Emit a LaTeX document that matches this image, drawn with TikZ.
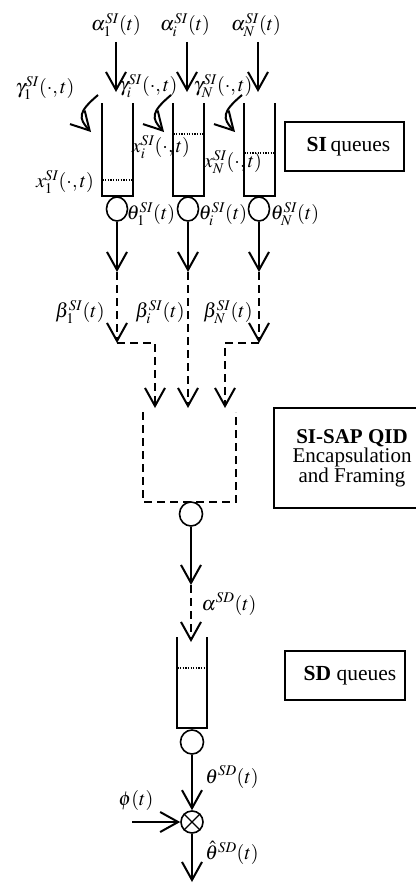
\documentclass[tikz,border=0pt]{standalone}
\usepackage{mathptmx}
\usepackage[no-math]{fontspec}
\setmainfont{Liberation Serif}
\usetikzlibrary{arrows.meta,shapes.geometric}

\tikzset{
  wire/.style={line width=2pt},
  flow/.style={wire,-{Straight Barb[length=18pt,width=20pt]}},
  dwire/.style={wire,dash pattern=on 8pt off 5pt},
  dflow/.style={flow,dash pattern=on 8pt off 5pt},
  queue/.style={line width=2pt},
  level/.style={line width=1.1pt,dash pattern=on 1.3pt off 1.3pt},
  server/.style={draw,ellipse,line width=1.6pt,minimum width=21pt,minimum height=24pt,inner sep=0pt},
  mixer/.style={draw,circle,line width=1.6pt,minimum size=22pt,inner sep=0pt},
  legend/.style={draw,line width=1.7pt,align=center,inner sep=0pt},
  lbl/.style={inner sep=0pt,font=\fontsize{20}{24}\selectfont},
}

\begin{document}
\begin{tikzpicture}[x=1pt,y=-1pt]
\useasboundingbox (0,0) rectangle (415,883);

% ---------- SI queues: arrivals ----------
\node[lbl] (a1) at (116,25) {$\alpha_1^{SI}(t)$};
\node[lbl] (ai) at (185,25) {$\alpha_i^{SI}(t)$};
\node[lbl] (aN) at (256,25) {$\alpha_N^{SI}(t)$};
\foreach \c/\n in {116/1,187/i,258/N}{
  \coordinate (a\n s) at (\c,42);
  \coordinate (a\n e) at (\c,92);
  \draw[flow] (a\n s) -- (a\n e);
}

% ---------- drop flows gamma ----------
\node[lbl] (g1) at (45,88) {$\gamma_1^{SI}(\cdot,t)$};
\node[lbl] (gi) at (148,86) {$\gamma_i^{SI}(\cdot,t)$};
\node[lbl] (gN) at (223,86) {$\gamma_N^{SI}(\cdot,t)$};
\foreach \s/\t/\n in {98/91/1,171/164/i,242/235/N}{
  \coordinate (d\n s) at (\s,95);
  \coordinate (d\n e) at (\t,132);
  \draw[flow] (d\n s) .. controls +(-20,17) and +(-13,-14) .. (d\n e);
}

% ---------- queue buffers, levels and servers ----------
\foreach \c/\n/\lv in {117/1/180,188/i/134,259/N/153}{
  \draw[queue] (\c-15.5,103) -- (\c-15.5,196) -- (\c+15.5,196) -- (\c+15.5,103);
  \draw[level] (\c-14.5,\lv) -- (\c+14.5,\lv);
  \node[server] (s\n) at (\c,209) {};
  \coordinate (t\n) at (\c,272);
  \draw[flow] (s\n) -- (t\n);
}
\node[lbl] (x1) at (65,182) {$x_1^{SI}(\cdot,t)$};
\node[lbl] (xi) at (161,147) {$x_i^{SI}(\cdot,t)$};
\node[lbl] (xN) at (233,162) {$x_N^{SI}(\cdot,t)$};

\node[lbl] (th1) at (151,214) {$\theta_1^{SI}(t)$};
\node[lbl] (thi) at (223,214) {$\theta_i^{SI}(t)$};
\node[lbl] (thN) at (295,214) {$\theta_N^{SI}(t)$};

\node[legend,minimum width=119pt,minimum height=49pt] (siq) at (344.5,146.5)
  {\fontsize{21.5}{24}\selectfont\hspace{8pt}\textbf{SI}\,queues};

% ---------- departures beta to the encapsulation ----------
\node[lbl] (b1) at (80,312) {$\beta_1^{SI}(t)$};
\node[lbl] (bi) at (160,312) {$\beta_i^{SI}(t)$};
\node[lbl] (bN) at (228,312) {$\beta_N^{SI}(t)$};

\coordinate (m1) at (117,343);
\coordinate (mN) at (259,343);
\coordinate (k1) at (155,343);
\coordinate (kN) at (225,343);
\coordinate (e1) at (155,408);
\coordinate (ei) at (188,408);
\coordinate (eN) at (225,408);

\draw[dflow] (t1) -- (m1);
\draw[dflow] (m1) -- (k1) -- (e1);
\draw[dflow] (ti) -- (ei);
\draw[dflow] (tN) -- (mN);
\draw[dflow] (mN) -- (kN) -- (eN);

% ---------- SI-SAP QID encapsulation ----------
\coordinate (r1) at (143,412);
\coordinate (r2) at (143,502);
\coordinate (r3) at (236,502);
\coordinate (r4) at (236,412);
\draw[dwire] (r1) -- (r2) -- (r3) -- (r4);

\node[server,minimum width=23pt] (sap) at (191,514) {};
\coordinate (sapo) at (191,585);
\coordinate (sdin) at (191,642);
\draw[flow] (sap) -- (sapo);
\draw[dflow] (sapo) -- (sdin);
\node[lbl] (asd) at (229,604) {$\alpha^{SD}(t)$};

\node[legend,minimum width=156pt,minimum height=100pt] (sapbox) at (352,458)
  {\fontsize{21}{22.5}\selectfont\textbf{SI-SAP QID}\\[0pt]
   \fontsize{21}{22.5}\selectfont Encapsulation\\
   \fontsize{21}{22.5}\selectfont and Framing};

% ---------- SD queue ----------
\draw[queue] (176.5,637) -- (176.5,728) -- (207,728) -- (207,637);
\draw[level] (177.5,668) -- (206,668);
\node[server,minimum width=23pt] (ssd) at (192,742) {};
\node[mixer] (mix) at (192,822) {};
\draw[line width=1.3pt] (mix.north west) -- (mix.south east);
\draw[line width=1.3pt] (mix.north east) -- (mix.south west);
\draw[flow] (ssd) -- (mix);
\node[lbl] (thsd) at (232,777) {$\theta^{SD}(t)$};

\node[lbl] (phi) at (136,800) {$\phi(t)$};
\coordinate (phis) at (132,822);
\draw[flow] (phis) -- (mix);

\coordinate (out) at (192,882);
\draw[flow] (mix) -- (out);
\node[lbl] (thh) at (232,853) {$\hat{\theta}^{SD}(t)$};

\node[legend,minimum width=120pt,minimum height=49pt] (sdq) at (345,675.5)
  {\fontsize{21.5}{24}\selectfont\hspace{10pt}\textbf{SD} queues};
\end{tikzpicture}
\end{document}
